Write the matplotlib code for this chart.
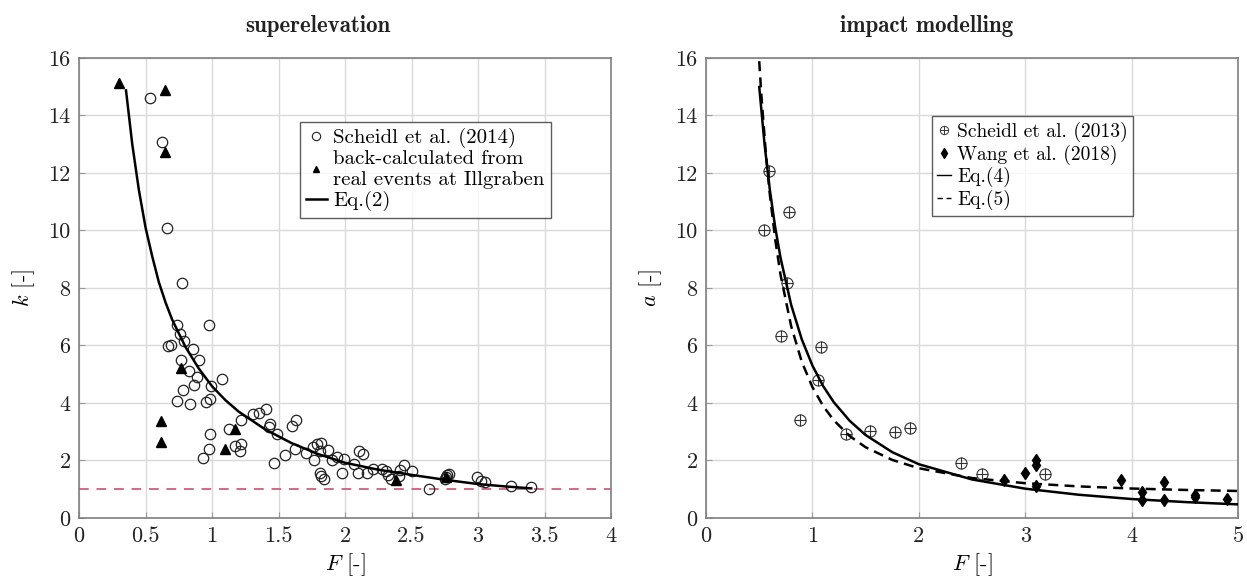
import matplotlib
matplotlib.use("Agg")
import matplotlib.pyplot as plt
from matplotlib.legend_handler import HandlerTuple
from matplotlib.lines import Line2D

plt.rcParams['font.family'] = ['cmr10', 'DejaVu Serif']
plt.rcParams['mathtext.fontset'] = 'cm'
plt.rcParams['axes.formatter.use_mathtext'] = True

# ---------------- superelevation data ----------------
sch14_F = [0.53, 0.624, 0.662, 0.775, 0.733, 0.975, 0.758, 0.788, 0.67, 0.688,
           0.858, 0.90, 0.77, 0.828, 0.888, 1.075, 0.995, 0.865, 0.778, 0.74,
           0.833, 0.952, 0.987, 1.408, 1.35, 1.308, 1.22, 1.437, 1.43, 1.63,
           1.60, 1.125, 0.983, 1.488, 0.975, 0.933, 1.175, 1.22, 1.21, 1.465,
           1.545, 1.62, 1.708, 1.758, 1.788, 1.82, 1.77, 1.808, 1.87, 1.90,
           1.938, 1.995, 1.81, 1.82, 1.838, 1.978, 2.07, 2.108, 2.138, 2.095,
           2.163, 2.208, 2.275, 2.308, 2.32, 2.345, 2.41, 2.445, 2.50, 2.408,
           2.628, 2.758, 2.765, 2.75, 2.78, 2.995, 3.02, 3.05, 3.25, 3.40]
sch14_k = [14.62, 13.08, 10.08, 8.17, 6.70, 6.72, 6.39, 6.14, 5.98, 6.00,
           5.86, 5.48, 5.51, 5.11, 4.90, 4.85, 4.58, 4.61, 4.46, 4.07,
           3.98, 4.03, 4.14, 3.80, 3.65, 3.61, 3.40, 3.28, 3.17, 3.40,
           3.20, 3.11, 2.91, 2.91, 2.39, 2.09, 2.50, 2.56, 2.33, 1.91,
           2.18, 2.41, 2.26, 2.47, 2.56, 2.61, 2.03, 2.33, 2.38, 2.00,
           2.12, 2.06, 1.57, 1.45, 1.34, 1.57, 1.87, 2.33, 2.24, 1.58,
           1.57, 1.72, 1.72, 1.63, 1.48, 1.34, 1.68, 1.83, 1.63, 1.45,
           1.00, 1.43, 1.48, 1.35, 1.52, 1.43, 1.30, 1.25, 1.12, 1.07]

illg_F = [0.297, 0.644, 0.647, 0.77, 0.613, 0.613, 1.175, 1.10, 2.383, 2.76]
illg_k = [15.14, 14.88, 12.74, 5.23, 3.37, 2.64, 3.11, 2.41, 1.33, 1.43]

eq2_F = [0.353, 0.40, 0.45, 0.50, 0.55, 0.60, 0.65, 0.70, 0.80, 0.90, 1.0,
         1.1, 1.2, 1.4, 1.6, 1.8, 2.0, 2.25, 2.5, 2.75, 3.0, 3.2, 3.4]
eq2_k = [14.87, 13.0, 11.4, 10.1, 9.1, 8.2, 7.5, 6.9, 5.95, 5.2, 4.58,
         4.1, 3.70, 3.08, 2.60, 2.22, 1.92, 1.68, 1.50, 1.33, 1.18, 1.10, 1.03]

ref_k = 1.0

# ---------------- impact modelling data ----------------
sch13_F = [0.594, 0.783, 0.541, 0.76, 0.70, 1.08, 1.055, 0.884, 1.32, 1.54,
           1.774, 1.92, 2.40, 2.59, 3.19]
sch13_a = [12.07, 10.63, 10.03, 8.17, 6.33, 5.95, 4.79, 3.42, 2.91, 3.03,
           2.99, 3.13, 1.92, 1.52, 1.52]

wang_F = [2.80, 3.0, 3.10, 3.10, 3.10, 3.9, 4.10, 4.10, 4.30, 4.30, 4.60, 4.60, 4.90]
wang_a = [1.31, 1.57, 2.00, 1.83, 1.11, 1.33, 0.90, 0.62, 1.25, 0.62, 0.79, 0.72, 0.67]

eq4_F = [0.50, 0.55, 0.60, 0.65, 0.70, 0.80, 0.90, 1.0, 1.1, 1.2, 1.35, 1.5,
         1.75, 2.0, 2.5, 3.0, 3.5, 4.0, 4.5, 5.0]
eq4_a = [14.99, 12.99, 11.40, 10.11, 9.05, 7.41, 6.21, 5.30, 4.59, 4.03, 3.38, 2.885,
         2.29, 1.87, 1.34, 1.02, 0.81, 0.66, 0.555, 0.474]

eq5_F = [0.49, 0.52, 0.56, 0.60, 0.65, 0.70, 0.80, 0.90, 1.0, 1.1, 1.2, 1.35,
         1.5, 1.75, 2.0, 2.5, 3.0, 3.5, 4.0, 4.5, 5.0]
eq5_a = [16.45, 14.7, 12.78, 11.23, 9.69, 8.46, 6.67, 5.43, 4.55, 3.90, 3.40, 2.85,
         2.46, 2.02, 1.73, 1.39, 1.21, 1.10, 1.025, 0.976, 0.94]

left_xticks = [0, 0.5, 1, 1.5, 2, 2.5, 3, 3.5, 4]
left_xlabels = ['0', '0.5', '1', '1.5', '2', '2.5', '3', '3.5', '4']
right_xticks = [0, 1, 2, 3, 4, 5]
yticks = [0, 2, 4, 6, 8, 10, 12, 14, 16]

fig = plt.figure(figsize=(12.47, 5.78), dpi=100)
ax1 = fig.add_axes([0.0634, 0.1038, 0.4266, 0.796])
ax2 = fig.add_axes([0.5662, 0.1038, 0.4266, 0.796])

for ax in (ax1, ax2):
    ax.grid(True, color='#d9d9d9', linewidth=1.0)
    ax.set_axisbelow(True)
    for s in ax.spines.values():
        s.set_color('#7f7f7f')
        s.set_linewidth(1.2)
    ax.tick_params(direction='in', length=4, color='#999999', labelsize=16,
                   labelcolor='#222222', pad=6)
    ax.set_ylim(0, 16)
    ax.set_yticks(yticks)
    ax.set_yticklabels([str(v) for v in yticks])

# left
ax1.set_xlim(0, 4)
ax1.set_xticks(left_xticks)
ax1.set_xticklabels(left_xlabels)
ax1.axhline(ref_k, color='#d46a82', linestyle=(0, (5, 4)), linewidth=1.4, zorder=2)
ax1.plot(sch14_F, sch14_k, 'o', mfc='none', mec='#222222', mew=0.9, ms=7.5,
         linestyle='none', zorder=3)
ax1.plot(illg_F, illg_k, '^', color='black', ms=6.5, linestyle='none', zorder=4)
ax1.plot(eq2_F, eq2_k, '-', color='black', linewidth=1.8, zorder=5)
fig.text((390 / 1247), 1 - 32 / 578, 'superelevation', fontsize=16.5, family='cmb10',
         ha='right', va='baseline', color='#222222')
ax1.set_xlabel(r'$F$ [-]', fontsize=16, labelpad=4)
ax1.set_ylabel(r'$k$ [-]', fontsize=16, labelpad=8)

lc = Line2D([], [], marker='o', mfc='none', mec='#222222', mew=0.8, ms=6, linestyle='none')
lt = Line2D([], [], marker='^', color='black', ms=5, linestyle='none')
le = Line2D([], [], color='black', linestyle='-', linewidth=1.8)
leg1 = ax1.legend([lc, lt, le],
                  ['Scheidl et al. (2014)', 'back-calculated from\nreal events at Illgraben', 'Eq.(2)'],
                  loc='upper left', bbox_to_anchor=(0.415, 0.861),
                  fontsize=15, frameon=True, fancybox=False, edgecolor='#333333',
                  handlelength=1.0, handletextpad=0.3, borderpad=0.3, labelspacing=0.1,
                  borderaxespad=0)
leg1.get_frame().set_linewidth(1.0)

# right
ax2.set_xlim(0, 5)
ax2.set_xticks(right_xticks)
ax2.set_xticklabels([str(v) for v in right_xticks])
ax2.plot(eq5_F, eq5_a, color='black', linestyle=(0, (4, 2.5)), linewidth=1.8, zorder=5)
ax2.plot(eq4_F, eq4_a, color='black', linestyle='-', linewidth=1.8, zorder=5)
ax2.plot(sch13_F, sch13_a, 'o', mfc='none', mec='#333333', mew=0.8, ms=8, linestyle='none', zorder=3)
ax2.plot(sch13_F, sch13_a, '+', color='#333333', mew=0.8, ms=8, linestyle='none', zorder=3)
ax2.plot(wang_F, wang_a, 'd', color='black', ms=6.5, linestyle='none', zorder=4)
fig.text((840 / 1247), 1 - 32 / 578, 'impact modelling', fontsize=16.5, family='cmb10',
         ha='left', va='baseline', color='#222222')
ax2.set_xlabel(r'$F$ [-]', fontsize=16, labelpad=4)
ax2.set_ylabel(r'$a$ [-]', fontsize=16, labelpad=8)

lh_o = Line2D([], [], marker='o', mfc='none', mec='#333333', mew=0.7, ms=6, linestyle='none')
lh_p = Line2D([], [], marker='+', color='#333333', mew=0.7, ms=6, linestyle='none')
lh_d = Line2D([], [], marker='d', color='black', ms=5, linestyle='none')
lh_4 = Line2D([], [], color='black', linestyle='-', linewidth=1.0)
lh_5 = Line2D([], [], color='black', linestyle=(0, (4, 2.5)), linewidth=1.0)
leg2 = ax2.legend([(lh_o, lh_p), lh_d, lh_4, lh_5],
                  ['Scheidl et al. (2013)', 'Wang et al. (2018)', 'Eq.(4)', 'Eq.(5)'],
                  handler_map={tuple: HandlerTuple(ndivide=1, pad=0)},
                  loc='upper left', bbox_to_anchor=(0.424, 0.873),
                  fontsize=14, frameon=True, fancybox=False, edgecolor='#333333',
                  handlelength=0.7, handletextpad=0.3, borderpad=0.3, labelspacing=0.12,
                  borderaxespad=0)
leg2.get_frame().set_linewidth(1.0)

fig.savefig('out.png', dpi=100)
